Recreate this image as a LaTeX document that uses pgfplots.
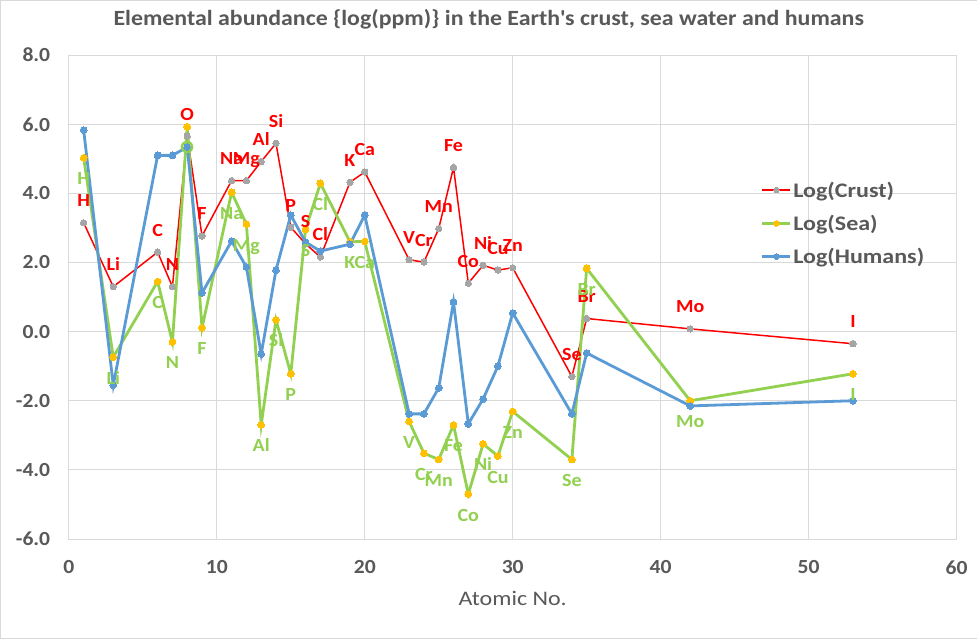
\documentclass[border=0pt]{standalone}
\usepackage{pgfplots}
\pgfplotsset{compat=1.18}
\usepackage{pgfplotstable}
\usepackage{fontspec}
\setmainfont{Carlito}
\newfontfamily\fTitle{Carlito}[FakeStretch=1.10]
\newfontfamily\fWide{Carlito}[FakeStretch=1.16]
\newfontfamily\fLab{Carlito}[FakeStretch=1.08]
\definecolor{txt}{HTML}{595959}
\definecolor{gridc}{HTML}{D9D9D9}
\definecolor{crustred}{HTML}{FF0000}
\definecolor{greyM}{HTML}{A5A5A5}
\definecolor{seaG}{HTML}{92D050}
\definecolor{seaY}{HTML}{FFC000}
\definecolor{humB}{HTML}{5B9BD5}

\pgfplotstableread{
Z crust sea hum el
1 3.15 5.03 5.83 H
3 1.30 -0.74 -1.55 Li
6 2.30 1.45 5.10 C
7 1.30 -0.30 5.10 N
8 5.66 5.93 5.34 O
9 2.77 0.11 1.12 F
11 4.37 4.03 2.62 Na
12 4.37 3.11 1.87 Mg
13 4.92 -2.70 -0.65 Al
14 5.45 0.34 1.78 Si
15 3.02 -1.22 3.37 P
16 2.54 2.96 2.59 S
17 2.16 4.29 2.33 Cl
19 4.32 2.60 2.53 K
20 4.62 2.61 3.37 Ca
23 2.08 -2.60 -2.38 V
24 2.01 -3.52 -2.38 Cr
25 2.98 -3.70 -1.63 Mn
26 4.75 -2.70 0.86 Fe
27 1.40 -4.70 -2.67 Co
28 1.92 -3.25 -1.95 Ni
29 1.78 -3.60 -1.00 Cu
30 1.85 -2.31 0.54 Zn
34 -1.30 -3.70 -2.38 Se
35 0.38 1.83 -0.62 Br
42 0.08 -2.00 -2.15 Mo
53 -0.35 -1.22 -2.00 I
}\data

\begin{document}
\begin{tikzpicture}
\draw[color=gridc, fill=white] (-68.7pt,-99pt) rectangle (908.3pt,539pt);
\begin{axis}[
  scale only axis, width=888pt, height=484pt,
  xmin=0, xmax=60, ymin=-6, ymax=8,
  xtick={0,10,...,60}, ytick={-6,-4,...,8},
  grid=major, major grid style={color=gridc, line width=0.75pt},
  axis line style={color=gridc, line width=0.75pt},
  major tick length=0pt,
  clip=false,
  /pgf/number format/assume math mode=true,
  ticklabel style={font=\fLab\fontsize{20}{20}\selectfont\bfseries, text=txt},
  yticklabel style={/pgf/number format/fixed, /pgf/number format/fixed zerofill, /pgf/number format/precision=1, anchor=east, inner sep=0pt, xshift=-18.5pt},
  xticklabel style={anchor=north, inner sep=0pt, yshift=-21.7pt},
  title={Elemental abundance \{log(ppm)\} in the Earth\textquotesingle s crust, sea water and humans},
  title style={font=\fTitle\fontsize{21.7}{21.7}\selectfont\bfseries, text=txt, at={(axis description cs:0.5,1)}, anchor=base, inner sep=0pt, yshift=23.3pt, xshift=-24pt},
  xlabel={Atomic No.},
  xlabel style={font=\fWide\fontsize{20.7}{20.7}\selectfont, text=txt, at={(axis description cs:0.5,0)}, anchor=base, inner sep=0pt, yshift=-67pt},
  legend style={at={(0.7796,0.738)}, anchor=north west, draw=none, fill=none, font=\fWide\fontsize{20.7}{20.7}\selectfont\bfseries, text=txt, row sep=13.3pt, inner sep=0pt, column sep=1.5pt, nodes={inner sep=0pt, text height=15pt, text depth=5pt}, cells={anchor=west}},
  legend image code/.code={\draw[mark repeat=2,mark phase=2, yshift=2pt, mark size=2.8pt] plot coordinates {(0pt,0pt)(14pt,0pt)(28pt,0pt)};},
]
\addplot[color=crustred, line width=1.5pt, mark=*, mark size=3.2pt, mark options={fill=greyM, draw=greyM, line width=0pt}]
  table[x=Z, y=crust]{\data};
\addlegendentry{Log(Crust)}
\addplot[color=seaG, line width=2.8pt, mark=*, mark size=3.4pt, mark options={fill=seaY, draw=seaY, line width=0pt}]
  table[x=Z, y=sea]{\data};
\addlegendentry{Log(Sea)}
\addplot[color=humB, line width=2.8pt, mark=*, mark size=3.4pt, mark options={fill=humB, draw=humB, line width=0pt}]
  table[x=Z, y=hum]{\data};
\addlegendentry{Log(Humans)}
\addplot[draw=none, mark=none, forget plot,
  nodes near coords, point meta=explicit symbolic,
  every node near coord/.append style={font=\fLab\fontsize{18.5}{18.5}\selectfont\bfseries, text=crustred, anchor=base, inner sep=0pt, yshift=16pt}]
  table[x=Z, y=crust, meta=el]{\data};
\addplot[draw=none, mark=none, forget plot,
  nodes near coords, point meta=explicit symbolic,
  every node near coord/.append style={font=\fLab\fontsize{18.5}{18.5}\selectfont\bfseries, text=seaG, anchor=base, inner sep=0pt, yshift=-27pt}]
  table[x=Z, y=sea, meta=el]{\data};
\end{axis}
\end{tikzpicture}
\end{document}
